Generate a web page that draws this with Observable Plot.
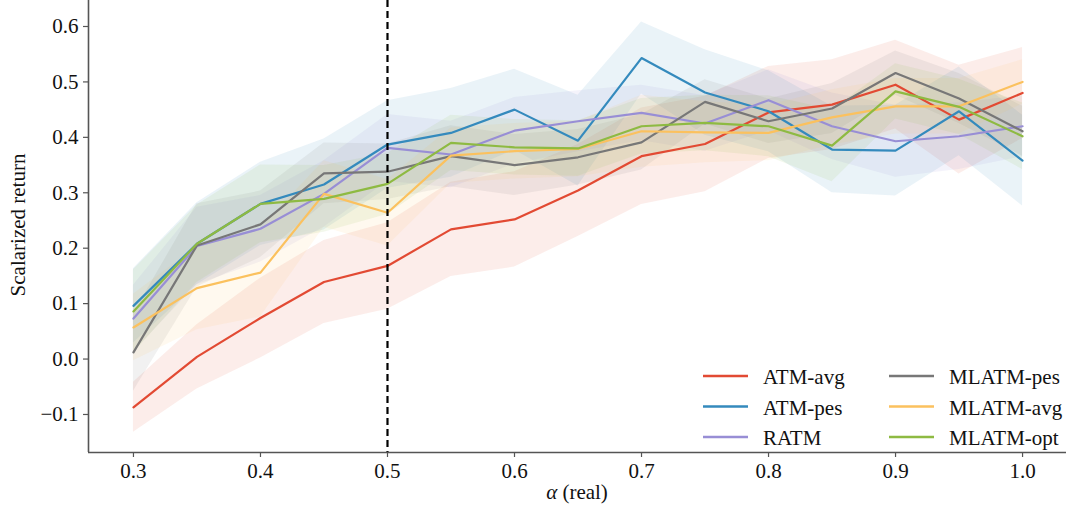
<!DOCTYPE html>
<html>
<head>
<meta charset="utf-8">
<script src="https://cdn.jsdelivr.net/npm/d3@7"></script>
<script src="https://cdn.jsdelivr.net/npm/@observablehq/plot@0.6"></script>
<style>
  body { margin: 0; background: #fff; }
  #chart { width: 1070px; height: 511px; }
  #chart svg { font-family: "Liberation Serif", "DejaVu Serif", serif; }
</style>
</head>
<body>
<div id="chart"></div>
<script>
// ---- data ----
const alphas = [0.3, 0.35, 0.4, 0.45, 0.5, 0.55, 0.6, 0.65, 0.7, 0.75, 0.8, 0.85, 0.9, 0.95, 1.0];
const seriesNames = ["ATM-avg", "ATM-pes", "RATM", "MLATM-pes", "MLATM-avg", "MLATM-opt"];
const seriesColors = ["#E24A33", "#348ABD", "#988ED5", "#777777", "#FBC15E", "#8EBA42"];

const atmAvg     = [-0.087, 0.004, 0.074, 0.139, 0.168, 0.234, 0.252, 0.304, 0.366, 0.388, 0.445, 0.459, 0.495, 0.432, 0.480];
const atmAvgStd  = [0.045, 0.058, 0.072, 0.075, 0.078, 0.085, 0.086, 0.083, 0.087, 0.086, 0.083, 0.081, 0.080, 0.098, 0.082];
const atmPes     = [0.096, 0.208, 0.280, 0.315, 0.387, 0.408, 0.450, 0.394, 0.543, 0.481, 0.447, 0.378, 0.376, 0.447, 0.358];
const atmPesStd  = [0.067, 0.074, 0.075, 0.082, 0.079, 0.080, 0.073, 0.082, 0.065, 0.077, 0.073, 0.078, 0.082, 0.080, 0.082];
const ratm       = [0.073, 0.204, 0.235, 0.298, 0.381, 0.369, 0.412, 0.429, 0.444, 0.425, 0.467, 0.420, 0.393, 0.402, 0.420];
const ratmStd    = [0.060, 0.070, 0.060, 0.060, 0.060, 0.060, 0.060, 0.055, 0.050, 0.050, 0.055, 0.060, 0.065, 0.060, 0.055];
const mlatmPes   = [0.012, 0.205, 0.243, 0.335, 0.338, 0.366, 0.350, 0.364, 0.391, 0.464, 0.429, 0.452, 0.516, 0.470, 0.411];
const mlatmPesStd= [0.070, 0.075, 0.060, 0.055, 0.050, 0.055, 0.055, 0.050, 0.050, 0.040, 0.040, 0.045, 0.040, 0.045, 0.045];
const mlatmAvg   = [0.057, 0.128, 0.156, 0.298, 0.264, 0.367, 0.375, 0.379, 0.411, 0.409, 0.408, 0.436, 0.456, 0.456, 0.500];
const mlatmAvgStd= [0.060, 0.075, 0.080, 0.060, 0.060, 0.050, 0.050, 0.050, 0.065, 0.055, 0.050, 0.050, 0.050, 0.050, 0.040];
const mlatmOpt   = [0.086, 0.208, 0.280, 0.289, 0.316, 0.390, 0.382, 0.380, 0.420, 0.426, 0.420, 0.385, 0.483, 0.455, 0.402];
const mlatmOptStd= [0.075, 0.070, 0.070, 0.060, 0.055, 0.050, 0.050, 0.050, 0.050, 0.050, 0.055, 0.065, 0.050, 0.050, 0.060];

const xTicks = [0.3, 0.4, 0.5, 0.6, 0.7, 0.8, 0.9, 1.0];
const yTicks = [-0.1, 0.0, 0.1, 0.2, 0.3, 0.4, 0.5, 0.6];
const alphaReal = 0.5;

// ---- build table ----
const means = [atmAvg, atmPes, ratm, mlatmPes, mlatmAvg, mlatmOpt];
const stds  = [atmAvgStd, atmPesStd, ratmStd, mlatmPesStd, mlatmAvgStd, mlatmOptStd];
const rows = [];
seriesNames.forEach((name, i) => {
  alphas.forEach((a, j) => {
    rows.push({series: name, alpha: a, value: means[i][j], lo: means[i][j] - stds[i][j], hi: means[i][j] + stds[i][j]});
  });
});

const xDomain = [0.2646, 1.0346];
const yDomain = [-0.1686, 0.6469];
const fmt = d3.format(".1f");
const axisColor = "#555555";

const plot = Plot.plot({
  width: 1070,
  height: 511,
  marginLeft: 88,
  marginRight: 4,
  marginTop: 0,
  marginBottom: 59,
  style: {fontFamily: "Liberation Serif, serif", fontSize: "21px", color: "#111", background: "#fff"},
  x: {domain: xDomain},
  y: {domain: yDomain},
  color: {domain: seriesNames, range: seriesColors},
  marks: [
    Plot.areaY(rows, {x: "alpha", y1: "lo", y2: "hi", z: "series", fill: "series", fillOpacity: 0.1}),
    Plot.lineY(rows, {x: "alpha", y: "value", z: "series", stroke: "series", strokeWidth: 2.2}),
    Plot.ruleX([alphaReal], {stroke: "black", strokeWidth: 2.2, strokeDasharray: "7,4"}),
    Plot.ruleX([xDomain[0]], {stroke: axisColor, strokeWidth: 1.6}),
    Plot.ruleY([yDomain[0]], {stroke: axisColor, strokeWidth: 1.6}),
    Plot.axisX({ticks: xTicks, tickFormat: fmt, tickSize: 5, tickPadding: 6, stroke: axisColor, strokeWidth: 1.2, label: null, fill: "#111"}),
    Plot.axisY({ticks: yTicks, tickFormat: fmt, tickSize: 5, tickPadding: 5, stroke: axisColor, strokeWidth: 1.2, label: null, fill: "#111"})
  ]
});

document.getElementById("chart").appendChild(plot);

// ---- axis titles and legend ----
const svg = d3.select(plot);
svg.append("text")
  .attr("transform", "translate(25,225) rotate(-90)")
  .attr("text-anchor", "middle")
  .attr("font-size", 21)
  .attr("fill", "#111")
  .text("Scalarized return");

const xl = svg.append("text")
  .attr("x", 577).attr("y", 499)
  .attr("text-anchor", "middle")
  .attr("font-size", 21)
  .attr("fill", "#111");
xl.append("tspan").attr("font-style", "italic").text("α");
xl.append("tspan").text(" (real)");

const legend = svg.append("g");
seriesNames.forEach((name, i) => {
  const col = Math.floor(i / 3), row = i % 3;
  const x0 = 703 + col * 186, y0 = 376 + row * 30.5;
  legend.append("line")
    .attr("x1", x0).attr("x2", x0 + 45).attr("y1", y0).attr("y2", y0)
    .attr("stroke", seriesColors[i]).attr("stroke-width", 2.5);
  legend.append("text")
    .attr("x", x0 + 60).attr("y", y0 + 8)
    .attr("text-anchor", "start")
    .attr("font-size", 21).attr("fill", "#111")
    .text(name);
});
</script>
</body>
</html>
